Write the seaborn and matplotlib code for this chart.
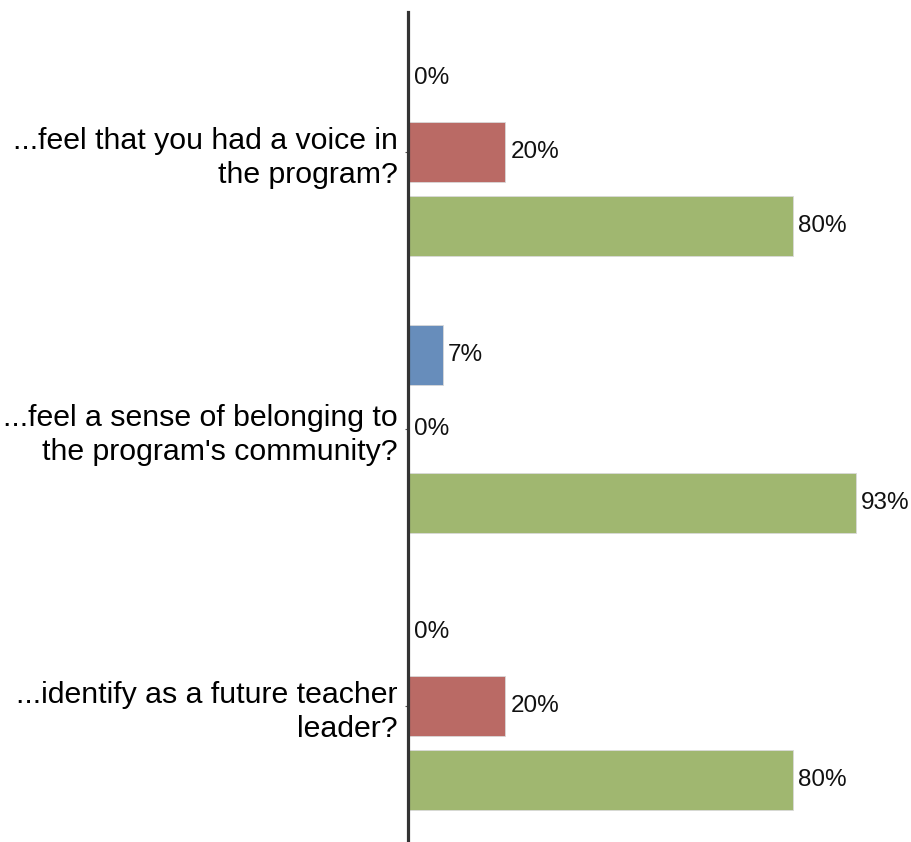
import matplotlib
matplotlib.use("Agg")
import matplotlib.pyplot as plt
import seaborn as sns
import pandas as pd

# Survey questions and response shares (percent)
questions = [
    "...feel that you had a voice in\nthe program?",
    "...feel a sense of belonging to\nthe program's community?",
    "...identify as a future teacher\nleader?",
]
responses = ["No", "Somewhat", "Yes"]
no_pct = [0, 7, 0]
somewhat_pct = [20, 0, 20]
yes_pct = [80, 93, 80]
colors = ["#678DBB", "#BA6A65", "#A0B770"]

rows = []
for i, q in enumerate(questions):
    for resp, vals in zip(responses, [no_pct, somewhat_pct, yes_pct]):
        rows.append({"question": q, "response": resp, "pct": vals[i]})
df = pd.DataFrame(rows)

sns.set_theme(style="white")
plt.rcParams["font.family"] = ["Liberation Sans", "DejaVu Sans"]

fig = plt.figure(figsize=(9.11, 8.42), dpi=100)
ax = fig.add_axes([408 / 911, 0.0, 480 / 911, 830 / 842])

sns.barplot(
    data=df, y="question", x="pct", hue="response",
    order=questions, hue_order=responses, palette=colors, saturation=1,
    orient="h", width=0.80, gap=0.19, edgecolor="#D9D9D9", linewidth=0.6,
    legend=False, ax=ax,
)

for container in ax.containers:
    vals = container.datavalues
    ax.bar_label(container, labels=[f"{v:.0f}%" for v in vals],
                 padding=3.5, fontsize=17.5, color="#111111")

ax.set_xlim(-0.3, 99.7)
ax.set_ylim(2.491, -0.505)
ax.set_xlabel("")
ax.set_ylabel("")
ax.set_xticks([])
for s in ["top", "right", "bottom"]:
    ax.spines[s].set_visible(False)
ax.spines["left"].set_color("#333333")
ax.spines["left"].set_linewidth(2.3)
ax.spines["left"].set_position(("data", -0.3))
ax.tick_params(axis="y", length=2.5, width=0.8, color="#555555", pad=5,
               labelsize=21.8, labelcolor="#000000", left=True)
for lab in ax.get_yticklabels():
    lab.set_horizontalalignment("right")
    lab.set_multialignment("right")
    lab.set_linespacing(1.28)

fig.savefig("out.png", dpi=100, facecolor="white")
